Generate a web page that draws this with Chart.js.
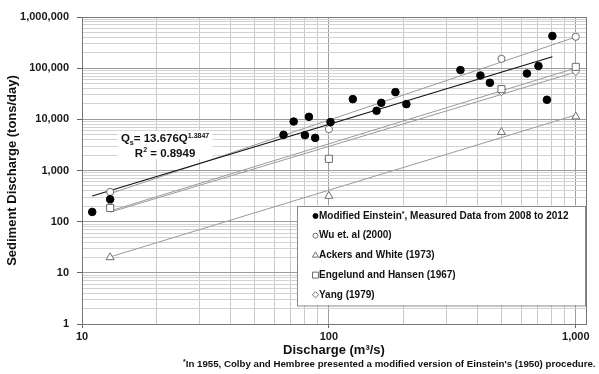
<!DOCTYPE html>
<html>
<head>
<meta charset="utf-8">
<script src="https://cdn.jsdelivr.net/npm/chart.js@4/dist/chart.umd.min.js"></script>
<style>
  html, body { margin: 0; padding: 0; background: #fff; }
  #wrap { width: 599px; height: 374px; }
</style>
</head>
<body>
<div id="wrap"><canvas id="sedimentChart"></canvas></div>
<script>
// measured data (Modified Einstein), discharge m3/s vs sediment tons/day
const measuredQ  = [11, 13, 65.5, 72, 80, 83, 88, 101.5, 125, 156, 163, 186, 206, 341, 411, 449, 634, 706, 764, 804];
const measuredQs = [155, 274, 4970, 9060, 4900, 11200, 4340, 8810, 24800, 14700, 21000, 34000, 19800, 91800, 71900, 51800, 78700, 110000, 24100, 425000];

// transport formula results at the four test discharges
const formulaQ   = [13, 100, 500, 1000];
const wuQs       = [381, 6430, 152000, 411000];
const ackersQs   = [20, 318, 5620, 11300];
const engelundQs = [185, 1690, 39000, 106000];
const yangQs     = [205, 1650, 34400, 85000];

// fitted lines, end points as drawn
const measuredFitQ  = [11, 804];
const measuredFitQs = [318, 167000];
const formulaFitQ   = [13, 1000];
const wuFitQs       = [353, 406000];
const ackersFitQs   = [20.5, 12200];
const engelundFitQs = [162, 100500];
const yangFitQs     = [153, 84000];

const xTicks = [10, 100, 1000];
const yTicks = [1, 10, 100, 1000, 10000, 100000, 1000000];

const FONT = "'Liberation Sans', Arial, sans-serif";
const grayMark = '#6e6e6e';
const grayLine = '#9a9a9a';

const pts = (xs, ys) => xs.map((x, i) => ({x: x, y: ys[i]}));
const isDecade = v => Math.abs(Math.log10(v) - Math.round(Math.log10(v))) < 1e-9;

function logGridTicks(min, max) {
  const out = [];
  for (let e = Math.floor(Math.log10(min)); Math.pow(10, e) <= max; e++) {
    for (let k = 1; k <= 9; k++) {
      const v = k * Math.pow(10, e);
      if (v >= min && v <= max) out.push({value: v});
    }
  }
  return out;
}

function drawMarker(ctx, style, x, y, r, fill, stroke) {
  ctx.beginPath();
  if (style === 'circle') {
    ctx.arc(x, y, r, 0, Math.PI * 2);
  } else if (style === 'triangle') {
    ctx.moveTo(x, y - r);
    ctx.lineTo(x + r * 0.866, y + r * 0.5);
    ctx.lineTo(x - r * 0.866, y + r * 0.5);
    ctx.closePath();
  } else if (style === 'rect') {
    const s = r * Math.SQRT1_2;
    ctx.rect(x - s, y - s, 2 * s, 2 * s);
  } else if (style === 'rectRot') {
    ctx.moveTo(x, y - r);
    ctx.lineTo(x + r, y);
    ctx.lineTo(x, y + r);
    ctx.lineTo(x - r, y);
    ctx.closePath();
  }
  ctx.fillStyle = fill;
  ctx.fill();
  ctx.lineWidth = 1;
  ctx.strokeStyle = stroke;
  ctx.stroke();
}

const legendSize = {circle: 2.5, triangle: 3.5, rect: 4.2, rectRot: 3.1};

// plot frame, regression label, legend box and footnote
const extras = {
  id: 'extras',
  afterDraw(chart, args, opts) {
    const ctx = chart.ctx;
    const area = chart.chartArea;
    const xs = chart.scales.x, ys = chart.scales.y;
    ctx.save();

    ctx.strokeStyle = '#777';
    ctx.lineWidth = 1;
    ctx.strokeRect(Math.round(area.left) + 0.5, Math.round(area.top) + 0.5,
                   Math.round(area.right - area.left), Math.round(area.bottom - area.top));

    // regression equation
    const cx = xs.getPixelForValue(opts.eqAt[0]);
    const cy = ys.getPixelForValue(opts.eqAt[1]);
    const big = 'bold 11.5px ' + FONT, small = 'bold 7px ' + FONT;
    ctx.textBaseline = 'alphabetic';
    const runs1 = [['Q', big, 0], ['s', small, 2.5], ['= 13.676Q', big, 0], ['1.3847', small, -4.5]];
    const runs2 = [['R', big, 0], ['2', small, -4.5], [' = 0.8949', big, 0]];
    const width = runs => runs.reduce((w, r) => { ctx.font = r[1]; return w + ctx.measureText(r[0]).width; }, 0);
    const w1 = width(runs1), w2 = width(runs2);
    ctx.fillStyle = '#fff';
    ctx.fillRect(cx - Math.max(w1, w2) / 2 - 3, cy - 14, Math.max(w1, w2) + 6, 28);
    ctx.fillStyle = '#111';
    [[runs1, w1, cy - 2.5], [runs2, w2, cy + 12]].forEach(([runs, w, base]) => {
      let x = cx - w / 2;
      runs.forEach(r => {
        ctx.font = r[1];
        ctx.fillText(r[0], x, base + r[2]);
        x += ctx.measureText(r[0]).width;
      });
    });

    // legend
    const lx = area.right - 289, ly = area.bottom - 118.5, lw = 288, lh = 99.5;
    ctx.fillStyle = '#fff';
    ctx.fillRect(lx, ly, lw, lh);
    ctx.strokeStyle = '#8a8a8a';
    ctx.strokeRect(Math.round(lx) + 0.5, Math.round(ly) + 0.5, lw, lh);
    const items = chart.data.datasets.filter(d => d.inLegend);
    items.forEach((d, i) => {
      const y = ly + 10.5 + i * 19.7;
      drawMarker(ctx, d.pointStyle, lx + 18.5, y, legendSize[d.pointStyle],
                 d.backgroundColor, d.borderColor);
      ctx.fillStyle = '#111';
      ctx.textBaseline = 'middle';
      let x = lx + 22;
      const parts = d.label.split('*');
      ctx.font = 'bold 10px ' + FONT;
      ctx.fillText(parts[0], x, y);
      x += ctx.measureText(parts[0]).width;
      if (parts.length > 1) {
        ctx.font = 'bold 7px ' + FONT;
        ctx.fillText('*', x, y - 2);
        x += ctx.measureText('*').width;
        ctx.font = 'bold 10px ' + FONT;
        ctx.fillText(parts[1], x, y);
      }
    });

    // footnote
    ctx.textBaseline = 'middle';
    ctx.fillStyle = '#111';
    ctx.font = 'bold 7px ' + FONT;
    ctx.fillText('*', 183, 362);
    const sw = ctx.measureText('*').width;
    ctx.font = 'bold 9.7px ' + FONT;
    ctx.fillText("In 1955, Colby and Hembree presented a modified version of Einstein's (1950) procedure.", 183 + sw, 364.5);

    ctx.restore();
  }
};

const seriesStyle = {showLine: false, borderWidth: 1, pointBorderWidth: 1};
const fitStyle = {showLine: true, pointRadius: 0, borderWidth: 1, borderColor: grayLine, backgroundColor: grayLine};

const ctx = document.getElementById('sedimentChart').getContext('2d');
const chart = new Chart(ctx, {
  type: 'scatter',
  data: {
    datasets: [
      Object.assign({label: 'Modified Einstein*, Measured Data from 2008 to 2012', data: pts(measuredQ, measuredQs),
        pointStyle: 'circle', pointRadius: 3.8, backgroundColor: '#000', borderColor: '#000', inLegend: true}, seriesStyle),
      Object.assign({label: 'Wu et. al (2000)', data: pts(formulaQ, wuQs),
        pointStyle: 'circle', pointRadius: 3.6, backgroundColor: '#fff', borderColor: grayMark, inLegend: true}, seriesStyle),
      Object.assign({label: 'Ackers and White (1973)', data: pts(formulaQ, ackersQs),
        pointStyle: 'triangle', pointRadius: 4.6, backgroundColor: '#fff', borderColor: grayMark, inLegend: true}, seriesStyle),
      Object.assign({label: 'Engelund and Hansen (1967)', data: pts(formulaQ, engelundQs),
        pointStyle: 'rect', pointRadius: 5, backgroundColor: '#fff', borderColor: grayMark, inLegend: true}, seriesStyle),
      Object.assign({label: 'Yang (1979)', data: pts(formulaQ, yangQs),
        pointStyle: 'rectRot', pointRadius: 3.8, backgroundColor: '#fff', borderColor: grayMark, inLegend: true}, seriesStyle),
      Object.assign({label: 'Measured fit', data: pts(measuredFitQ, measuredFitQs)}, fitStyle, {borderColor: '#111', borderWidth: 1.2}),
      Object.assign({label: 'Wu fit', data: pts(formulaFitQ, wuFitQs)}, fitStyle),
      Object.assign({label: 'Ackers fit', data: pts(formulaFitQ, ackersFitQs)}, fitStyle),
      Object.assign({label: 'Engelund fit', data: pts(formulaFitQ, engelundFitQs)}, fitStyle),
      Object.assign({label: 'Yang fit', data: pts(formulaFitQ, yangFitQs)}, fitStyle)
    ]
  },
  options: {
    responsive: true,
    maintainAspectRatio: false,
    animation: false,
    events: [],
    layout: {padding: {left: 0, top: 17, right: 13, bottom: 16}},
    plugins: {
      legend: {display: false},
      tooltip: {enabled: false},
      extras: {eqAt: [21.7, 3170]}
    },
    scales: {
      x: {
        type: 'logarithmic',
        min: 10,
        max: 1100,
        afterBuildTicks: s => { s.ticks = logGridTicks(s.min, s.max); },
        afterFit: s => { s.height = 34; },
        grid: {
          color: c => isDecade(c.tick.value) ? '#9c9c9c' : '#cacaca',
          tickColor: c => xTicks.includes(c.tick.value) ? '#666' : 'rgba(0,0,0,0)',
          tickLength: 4
        },
        border: {color: '#666'},
        ticks: {
          autoSkip: false,
          maxRotation: 0,
          padding: 2,
          color: '#1a1a1a',
          font: {family: FONT, size: 11, weight: 'bold'},
          callback: v => xTicks.includes(v) ? v.toLocaleString('en-US') : ''
        },
        title: {display: true, text: 'Discharge (m³/s)', color: '#111', padding: 0,
                font: {family: FONT, size: 13, weight: 'bold'}}
      },
      y: {
        type: 'logarithmic',
        min: 1,
        max: 1000000,
        afterBuildTicks: s => { s.ticks = logGridTicks(s.min, s.max); },
        afterFit: s => { s.width = 82; },
        grid: {
          color: c => isDecade(c.tick.value) ? '#9c9c9c' : '#d2d2d2',
          tickColor: c => yTicks.includes(c.tick.value) ? '#666' : 'rgba(0,0,0,0)',
          tickLength: 5
        },
        border: {color: '#666'},
        ticks: {
          autoSkip: false,
          padding: 8,
          color: '#1a1a1a',
          font: {family: FONT, size: 11, weight: 'bold'},
          callback: v => yTicks.includes(v) ? v.toLocaleString('en-US') : ''
        },
        title: {display: true, text: 'Sediment Discharge (tons/day)', color: '#111', padding: {top: 5, bottom: 0},
                font: {family: FONT, size: 13, weight: 'bold'}}
      }
    }
  },
  plugins: [extras]
});
</script>
</body>
</html>
